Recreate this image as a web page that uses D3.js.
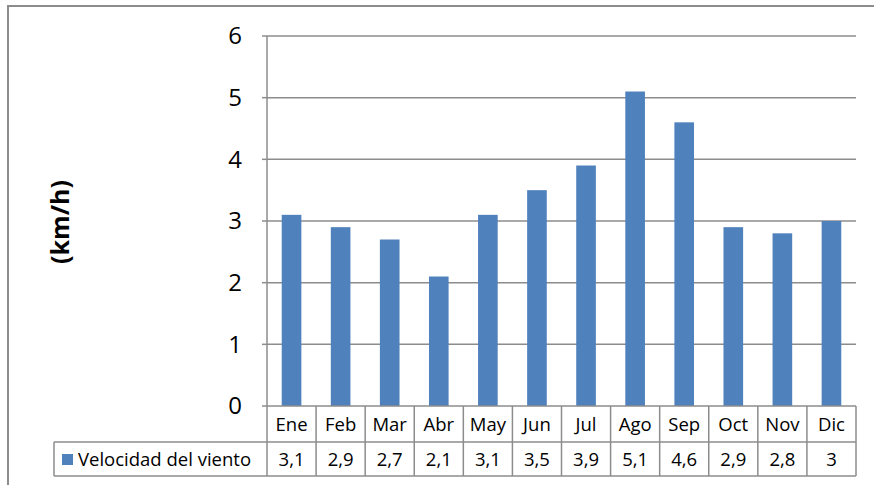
<!DOCTYPE html>
<html>
<head>
<meta charset="utf-8">
<script src="https://cdn.jsdelivr.net/npm/d3@7"></script>
<style>
  html, body { margin: 0; padding: 0; background: #fff; }
  svg { display: block; font-family: "Open Sans", "Noto Sans", sans-serif; }
</style>
</head>
<body>
<svg id="chart" width="874" height="485"></svg>
<script>
// Monthly average wind speed (km/h)
const months = ["Ene", "Feb", "Mar", "Abr", "May", "Jun", "Jul", "Ago", "Sep", "Oct", "Nov", "Dic"];
const windSpeed = [3.1, 2.9, 2.7, 2.1, 3.1, 3.5, 3.9, 5.1, 4.6, 2.9, 2.8, 3];
const yTicks = [0, 1, 2, 3, 4, 5, 6];
const seriesName = "Velocidad del viento";
const yTitle = "(km/h)";

const svg = d3.select("#chart");
const grid = "#8c8c8c";
const barColor = "#4F81BD";

const plot = { left: 267, right: 856, top: 36, bottom: 406 };
const rowH1 = 36, rowH2 = 34;
const legendLeft = 54;
const tableFont = 18.5;

const x = d3.scaleBand().domain(months).range([plot.left, plot.right]).paddingInner(0).paddingOuter(0);
const y = d3.scaleLinear().domain([0, 6]).range([plot.bottom, plot.top]);

// Outer chart frame
svg.append("rect")
  .attr("x", 8).attr("y", 6).attr("width", 880).attr("height", 500)
  .attr("fill", "none").attr("stroke", grid).attr("stroke-width", 2);

// Horizontal gridlines
svg.append("g").selectAll("line").data(yTicks.filter(d => d > 0)).join("line")
  .attr("x1", plot.left).attr("x2", plot.right)
  .attr("y1", d => y(d)).attr("y2", d => y(d))
  .attr("stroke", grid).attr("stroke-width", 1.5);

// Y axis tick labels
const yAxis = d3.axisLeft(y).tickValues(yTicks).tickSize(0).tickPadding(25).tickFormat(d3.format("d"));
const ya = svg.append("g").attr("transform", `translate(${plot.left},0)`).call(yAxis);
ya.select(".domain").remove();
ya.selectAll("text").attr("font-size", 24).attr("fill", "#000")
  .attr("font-family", "'Open Sans', sans-serif");

// Small tick marks on the value axis
svg.append("g").selectAll("line").data(yTicks).join("line")
  .attr("x1", plot.left - 5).attr("x2", plot.left)
  .attr("y1", d => y(d)).attr("y2", d => y(d))
  .attr("stroke", grid).attr("stroke-width", 1.5);

// Bars
const barW = x.bandwidth() * 0.4;
svg.append("g").selectAll("rect").data(windSpeed).join("rect")
  .attr("x", (d, i) => x(months[i]) + (x.bandwidth() - barW) / 2)
  .attr("width", barW)
  .attr("y", d => y(d))
  .attr("height", d => y(0) - y(d))
  .attr("fill", barColor);

// Y axis title
svg.append("text")
  .attr("transform", `translate(69,222) rotate(-90)`)
  .attr("text-anchor", "middle")
  .attr("font-size", 25).attr("font-weight", "bold")
  .text(yTitle);

// Data table
const t = svg.append("g");
const tableTop = plot.bottom, rowMid = tableTop + rowH1, tableBottom = rowMid + rowH2;
// horizontal rules
t.append("line").attr("x1", plot.left).attr("x2", plot.right).attr("y1", tableTop).attr("y2", tableTop);
t.append("line").attr("x1", legendLeft).attr("x2", plot.right).attr("y1", rowMid).attr("y2", rowMid);
t.append("line").attr("x1", legendLeft).attr("x2", plot.right).attr("y1", tableBottom).attr("y2", tableBottom);
// verticals
t.append("line").attr("x1", legendLeft).attr("x2", legendLeft).attr("y1", rowMid).attr("y2", tableBottom);
t.append("line").attr("x1", plot.left).attr("x2", plot.left).attr("y1", plot.top).attr("y2", tableBottom);
t.selectAll("line.col").data(months).join("line").attr("class", "col")
  .attr("x1", d => x(d) + x.bandwidth()).attr("x2", d => x(d) + x.bandwidth())
  .attr("y1", tableTop).attr("y2", tableBottom);
t.selectAll("line").attr("stroke", grid).attr("stroke-width", 1.5);

// category labels
t.selectAll("text.cat").data(months).join("text").attr("class", "cat")
  .attr("x", d => x(d) + x.bandwidth() / 2)
  .attr("y", tableTop + rowH1 / 2 + 6.5)
  .attr("text-anchor", "middle").attr("font-size", tableFont)
  .text(d => d);

// values
const fmt = v => String(v).replace(".", ",");
t.selectAll("text.val").data(windSpeed).join("text").attr("class", "val")
  .attr("x", (d, i) => x(months[i]) + x.bandwidth() / 2)
  .attr("y", rowMid + rowH2 / 2 + 6.5)
  .attr("text-anchor", "middle").attr("font-size", tableFont)
  .text(fmt);

// legend key
t.append("rect").attr("x", 62).attr("y", rowMid + 12).attr("width", 11).attr("height", 11).attr("fill", barColor);
t.append("text").attr("x", 78).attr("y", rowMid + rowH2 / 2 + 6.5)
  .attr("font-size", tableFont).text(seriesName);
</script>
</body>
</html>
